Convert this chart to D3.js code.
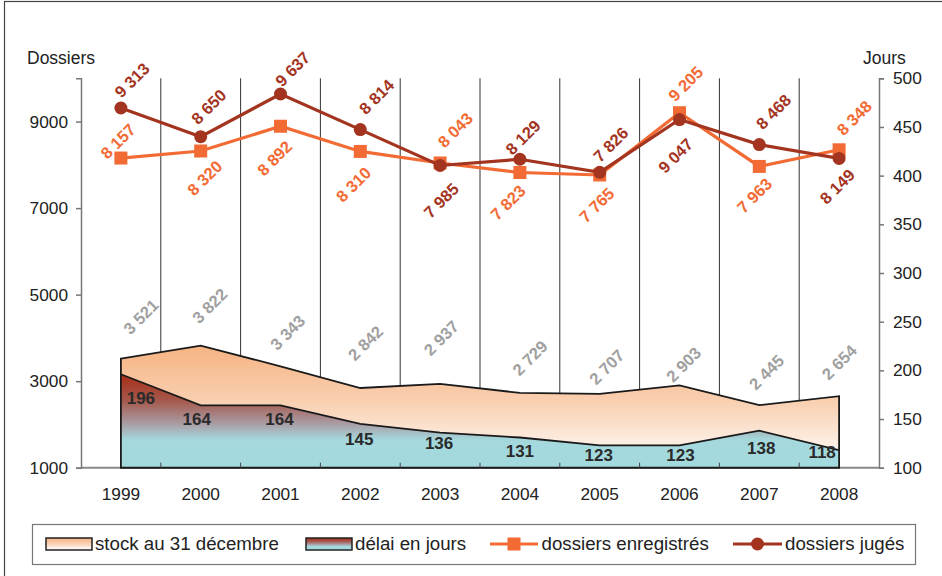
<!DOCTYPE html>
<html>
<head>
<meta charset="utf-8">
<script src="https://cdn.jsdelivr.net/npm/d3@7"></script>
<style>
  html, body { margin: 0; padding: 0; background: #fff; }
  svg { display: block; font-family: "Liberation Sans", Arial, sans-serif; }
</style>
</head>
<body>
<svg id="chart" width="942" height="576"></svg>
<script>
// Tribunal activity 1999-2008
const years = ['1999','2000','2001','2002','2003','2004','2005','2006','2007','2008'];
const stock = [3521, 3822, 3343, 2842, 2937, 2729, 2707, 2903, 2445, 2654];
const delai = [196, 164, 164, 145, 136, 131, 123, 123, 138, 118];
const enregistres = [8157, 8320, 8892, 8310, 8043, 7823, 7765, 9205, 7963, 8348];
const juges = [9313, 8650, 9637, 8814, 7985, 8129, 7826, 9047, 8468, 8149];
const dossiersTicks = [1000, 3000, 5000, 7000, 9000];
const joursTicks = [100, 150, 200, 250, 300, 350, 400, 450, 500];
const seriesNames = ['stock au 31 décembre', 'délai en jours', 'dossiers enregistrés', 'dossiers jugés'];

// label placement around each point: [dx, dy] of the label centre
const enregShift = [[-3,-17],[4,27],[-6,32],[-7,33],[15,-33],[-12,30],[-3,30],[6,-29],[-5,29],[15,-32]];
const jugesShift = [[11,-28],[8,-30],[12,-25],[16,-33],[1,35],[3,-22],[11,-28],[-4,36],[14,-33],[-2,28]];
const stockShift = [[20,-42],[9,-40],[7,-34],[5,-45],[1,-46],[10,-35],[7,-27],[4,-21],[7,-33],[0,-34]];
const delaiShift = [[20,24],[-4,14],[-1,14],[-1,16],[-1,11],[0,14],[-1,10],[1,10],[2,18],[-17,2]];

const C = {
  orange: '#f26b35',
  red: '#a3341f',
  grid: '#333',
  axis: '#777',
  stockLabel: '#a0a0a0',
  delaiLabel: '#2a2a2a'
};

const fmt = v => d3.format(',')(v).replace(/,/g, ' ');

const svg = d3.select('#chart');
const plotL = 81, plotR = 879, plotT = 78.3, plotB = 467.7;

const x = d3.scaleBand().domain(years).range([plotL, plotR]);
const cx = d => x(d) + x.bandwidth() / 2;
const yL = d3.scaleLinear().domain([1000, 10000]).range([plotB, plotT]);
const yR = d3.scaleLinear().domain([100, 500]).range([plotB, plotT]);

// gradients
const defs = svg.append('defs');
const gStock = defs.append('linearGradient').attr('id', 'gStock')
  .attr('x1', 0).attr('y1', 0).attr('x2', 0).attr('y2', 1);
gStock.append('stop').attr('offset', 0).attr('stop-color', '#f6b382');
gStock.append('stop').attr('offset', 0.45).attr('stop-color', '#f9cfb0');
gStock.append('stop').attr('offset', 1).attr('stop-color', '#ffffff');
const gDelai = defs.append('linearGradient').attr('id', 'gDelai')
  .attr('x1', 0).attr('y1', 0).attr('x2', 0).attr('y2', 1);
gDelai.append('stop').attr('offset', 0).attr('stop-color', '#a92d17');
gDelai.append('stop').attr('offset', 0.28).attr('stop-color', '#a5584b');
gDelai.append('stop').attr('offset', 0.52).attr('stop-color', '#a99aa1');
gDelai.append('stop').attr('offset', 0.7).attr('stop-color', '#a4d8dd');
gDelai.append('stop').attr('offset', 1).attr('stop-color', '#a3dade');

// outer frame
svg.append('rect').attr('x', 4.5).attr('y', 1.5).attr('width', 945).attr('height', 590)
  .attr('fill', 'none').attr('stroke', '#444').attr('stroke-width', 1.2);

// vertical grid lines at category boundaries
svg.append('g').selectAll('line').data(years.slice(1)).join('line')
  .attr('x1', d => x(d)).attr('x2', d => x(d))
  .attr('y1', plotT).attr('y2', plotB)
  .attr('stroke', C.grid).attr('stroke-width', 1);

// baseline
svg.append('line').attr('x1', plotL).attr('x2', plotR).attr('y1', plotB).attr('y2', plotB)
  .attr('stroke', '#888').attr('stroke-width', 2);

// stock area (left scale)
const stockArea = d3.area().x((d, i) => cx(years[i])).y0(plotB).y1(d => yL(d));
svg.append('path').datum(stock).attr('d', stockArea)
  .attr('fill', 'url(#gStock)').attr('stroke', '#1a1a1a').attr('stroke-width', 1.8);

// delay area (right scale)
const delaiArea = d3.area().x((d, i) => cx(years[i])).y0(plotB).y1(d => yR(d));
svg.append('path').datum(delai).attr('d', delaiArea)
  .attr('fill', 'url(#gDelai)').attr('stroke', '#1a1a1a').attr('stroke-width', 1.8);

// small ticks along the baseline
svg.append('g').selectAll('line').data(years.slice(1)).join('line')
  .attr('x1', d => x(d)).attr('x2', d => x(d))
  .attr('y1', plotB - 5).attr('y2', plotB)
  .attr('stroke', '#444').attr('stroke-width', 1);

// axes
const axisFont = 17.3;
const gLeft = svg.append('g').attr('transform', `translate(${plotL},0)`)
  .call(d3.axisLeft(yL).tickValues(dossiersTicks).tickSize(5).tickPadding(8).tickFormat(d3.format('d')));
const gRight = svg.append('g').attr('transform', `translate(${plotR},0)`)
  .call(d3.axisRight(yR).tickValues(joursTicks).tickSize(5).tickPadding(9));
const gBottom = svg.append('g').attr('transform', `translate(0,${plotB})`)
  .call(d3.axisBottom(x).tickSize(0).tickPadding(20));
gBottom.select('.domain').remove();
[gLeft, gRight].forEach(g => {
  g.select('.domain').attr('stroke', C.axis).attr('stroke-width', 1.5);
  g.selectAll('.tick line').attr('stroke', C.axis).attr('stroke-width', 1.5);
});
[gLeft, gRight, gBottom].forEach(g => {
  g.selectAll('.tick text').attr('font-size', axisFont).attr('fill', '#222')
    .attr('font-family', '"Liberation Sans", Arial, sans-serif');
});

svg.append('text').attr('x', 27).attr('y', 64).attr('font-size', 17.5).attr('fill', '#222').text('Dossiers');
svg.append('text').attr('x', 863).attr('y', 64).attr('font-size', 17.5).attr('fill', '#222').text('Jours');

// lines
const lineL = d3.line().x((d, i) => cx(years[i])).y(d => yL(d));
svg.append('path').datum(enregistres).attr('d', lineL)
  .attr('fill', 'none').attr('stroke', C.orange).attr('stroke-width', 3.2);
svg.append('g').selectAll('rect').data(enregistres).join('rect')
  .attr('x', (d, i) => cx(years[i]) - 6.5).attr('y', d => yL(d) - 6.5)
  .attr('width', 13).attr('height', 13).attr('fill', C.orange);

svg.append('path').datum(juges).attr('d', lineL)
  .attr('fill', 'none').attr('stroke', C.red).attr('stroke-width', 3.2);
svg.append('g').selectAll('circle').data(juges).join('circle')
  .attr('cx', (d, i) => cx(years[i])).attr('cy', d => yL(d))
  .attr('r', 6.5).attr('fill', C.red);

// rotated value labels
function rotatedLabels(values, scale, shift, color) {
  svg.append('g').selectAll('text').data(values).join('text')
    .attr('transform', (d, i) =>
      `translate(${cx(years[i]) + shift[i][0]},${scale(d) + shift[i][1]}) rotate(-45)`)
    .attr('text-anchor', 'middle').attr('dominant-baseline', 'central')
    .attr('font-size', 16.5).attr('font-weight', 'bold').attr('fill', color)
    .text(d => fmt(d));
}
rotatedLabels(stock, yL, stockShift, C.stockLabel);
rotatedLabels(enregistres, yL, enregShift, C.orange);
rotatedLabels(juges, yL, jugesShift, C.red);

svg.append('g').selectAll('text').data(delai).join('text')
  .attr('x', (d, i) => cx(years[i]) + delaiShift[i][0])
  .attr('y', (d, i) => yR(d) + delaiShift[i][1])
  .attr('text-anchor', 'middle').attr('dominant-baseline', 'central')
  .attr('font-size', 17).attr('font-weight', 'bold').attr('fill', C.delaiLabel)
  .text(d => d);

// legend
const lg = svg.append('g');
lg.append('rect').attr('x', 32.5).attr('y', 524.5).attr('width', 883).attr('height', 40)
  .attr('fill', '#fff').attr('stroke', '#777').attr('stroke-width', 1.2);
const legendY = 544;
const legendText = (xp, t) => lg.append('text').attr('x', xp).attr('y', legendY + 6)
  .attr('font-size', 18.7).attr('fill', '#222').text(t);

lg.append('rect').attr('x', 46).attr('y', 538).attr('width', 46).attr('height', 12)
  .attr('fill', 'url(#gStock)').attr('stroke', '#222').attr('stroke-width', 1.5);
legendText(95, seriesNames[0]);

lg.append('rect').attr('x', 306).attr('y', 538).attr('width', 46).attr('height', 12)
  .attr('fill', 'url(#gDelai)').attr('stroke', '#222').attr('stroke-width', 1.5);
legendText(355, seriesNames[1]);

lg.append('line').attr('x1', 490).attr('x2', 538).attr('y1', legendY).attr('y2', legendY)
  .attr('stroke', C.orange).attr('stroke-width', 3.2);
lg.append('rect').attr('x', 514 - 6.5).attr('y', legendY - 6.5).attr('width', 13).attr('height', 13)
  .attr('fill', C.orange);
legendText(541.5, seriesNames[2]);

lg.append('line').attr('x1', 733).attr('x2', 782).attr('y1', legendY).attr('y2', legendY)
  .attr('stroke', C.red).attr('stroke-width', 3.2);
lg.append('circle').attr('cx', 757.5).attr('cy', legendY).attr('r', 6.5).attr('fill', C.red);
legendText(785, seriesNames[3]);
</script>
</body>
</html>
